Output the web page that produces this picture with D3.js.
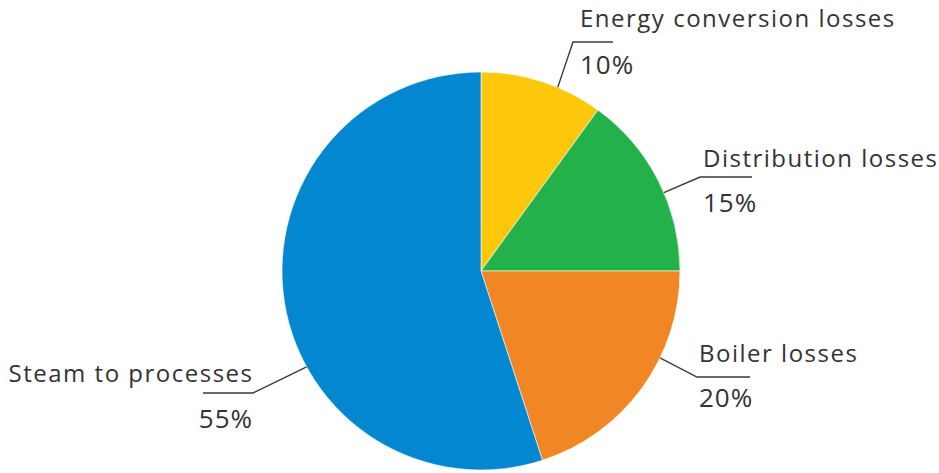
<!DOCTYPE html>
<html><head><meta charset="utf-8">
<script src="https://cdn.jsdelivr.net/npm/d3@7"></script>
<style>body{margin:0;background:#fff}svg{display:block}text{font-family:"Open Sans",sans-serif;fill:#333}</style>
</head><body>
<svg id="c" width="939" height="473"></svg>
<script>
const categories = ["Energy conversion losses","Distribution losses","Boiler losses","Steam to processes"];
const values = [10,15,20,55];
const colors = ["#FDC70B","#23B14A","#F18625","#0287D0"];

// label layout: where the leader leaves the slice (fraction of slice), elbow, end, text
const layout = [
  {frac:0.63, elbow:[573,42], end:[613,42], tx:580, ty1:27, ty2:74, anchor:"start"},
  {frac:0.57, elbow:[700,177], end:[752,177], tx:703, ty1:167, ty2:212, anchor:"start"},
  {frac:0.36, elbow:[697,377], end:[750,377], tx:699, ty1:362, ty2:407, anchor:"start"},
  {frac:0.40, elbow:[253,393], end:[203,393], tx:252, ty1:382, ty2:428, anchor:"end"}
];

const svg = d3.select("#c");
const cx = 481, cy = 271, R = 199;
const g = svg.append("g").attr("transform",`translate(${cx},${cy})`);
const pie = d3.pie().sort(null).value(d=>d)(values);
const arc = d3.arc().innerRadius(0).outerRadius(R);
g.selectAll("path").data(pie).join("path")
  .attr("d",arc).attr("fill",(d,i)=>colors[i])
  .attr("stroke","#fff").attr("stroke-width",0.6);

pie.forEach((d,i)=>{
  const L = layout[i];
  const a = d.startAngle + (d.endAngle-d.startAngle)*L.frac;
  const sx = cx + R*Math.sin(a), sy = cy - R*Math.cos(a);
  svg.append("polyline")
    .attr("points",[[sx,sy],L.elbow,L.end].map(p=>p.join(",")).join(" "))
    .attr("fill","none").attr("stroke","#3a3a3a").attr("stroke-width",1.4);
  const endAdj = L.anchor==="end";
  svg.append("text").attr("x",L.tx + (endAdj?1.5:0)).attr("y",L.ty1).attr("text-anchor",L.anchor)
    .attr("font-size",24).attr("letter-spacing",1.5).text(categories[i]);
  svg.append("text").attr("x",L.tx + (endAdj?1:0)).attr("y",L.ty2).attr("text-anchor",L.anchor)
    .attr("font-size",26).attr("letter-spacing",1).text(values[i]+"%");
});
</script>
</body></html>
